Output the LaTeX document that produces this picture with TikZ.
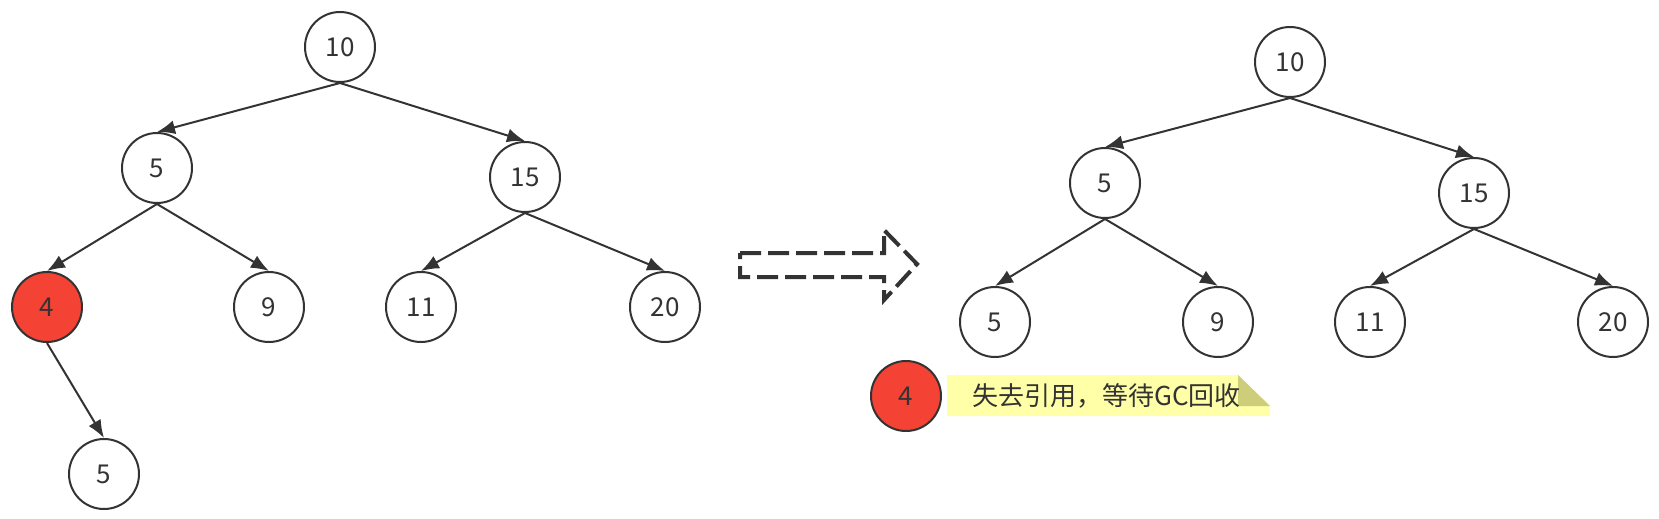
\documentclass[tikz,border=0pt]{standalone}
\usepackage{fontspec}
\setmainfont{Noto Sans CJK SC}
\usetikzlibrary{arrows.meta}
\definecolor{ink}{RGB}{51,51,51}
\definecolor{gcred}{RGB}{244,66,53}
\definecolor{note}{RGB}{255,255,168}
\definecolor{fold}{RGB}{205,205,122}

\begin{document}
\begin{tikzpicture}[x=0.5pt, y=-0.5pt]
\tikzset{num/.style = {circle, draw=ink, line width=1pt, fill=white, minimum size=35pt, inner sep=0pt, text=ink, font=\fontsize{13}{15}\selectfont}}
\tikzset{gone/.style = {num, fill=gcred}}
\tikzset{link/.style = {->, > = {Latex[length=9pt, width=7pt]}, draw=ink, line width=1pt}}

\useasboundingbox (0,0) rectangle (1659,519);

% before
\node[num] (a10) at (340,47) {10};
\node[num] (a5) at (157,168) {5};
\node[num] (a15) at (525,177) {15};
\node[gone] (a4) at (47,307) {4};
\node[num] (a9) at (269,307) {9};
\node[num] (a11) at (421,307) {11};
\node[num] (a20) at (665,307) {20};
\node[num] (a5b) at (104,474) {5};
\draw[link] (a10.south) -- (a5.north);
\draw[link] (a10.south) -- (a15.north);
\draw[link] (a5.south) -- (a4.north);
\draw[link] (a5.south) -- (a9.north);
\draw[link] (a15.south) -- (a11.north);
\draw[link] (a15.south) -- (a20.north);
\draw[link] (a4.south) -- (a5b.north);

\draw[draw=ink, line width=2pt, dash pattern=on 10.5pt off 3.5pt] (740,253) -- (884,253) -- (884,230) -- (917,264) -- (884,300) -- (884,277) -- (740,277) -- cycle;

% after
\node[num] (b10) at (1290,62) {10};
\node[num] (b5) at (1105,183) {5};
\node[num] (b15) at (1474,193) {15};
\node[num] (b5b) at (995,322) {5};
\node[num] (b9) at (1218,322) {9};
\node[num] (b11) at (1370,322) {11};
\node[num] (b20) at (1613,322) {20};
\draw[link] (b10.south) -- (b5.north);
\draw[link] (b10.south) -- (b15.north);
\draw[link] (b5.south) -- (b5b.north);
\draw[link] (b5.south) -- (b9.north);
\draw[link] (b15.south) -- (b11.north);
\draw[link] (b15.south) -- (b20.north);

\node[gone] (b4) at (906,396) {4};
\fill[note] (947,375) -- (1238,375) -- (1270,406) -- (1270,416) -- (947,416) -- cycle;
\fill[fold] (1238,375) -- (1238,406) -- (1270,406) -- cycle;
\node[anchor=west, inner sep=0pt, text=ink, font=\fontsize{13}{15}\selectfont] (msg) at (972,396) {失去引用，等待GC回收};

\end{tikzpicture}
\end{document}
